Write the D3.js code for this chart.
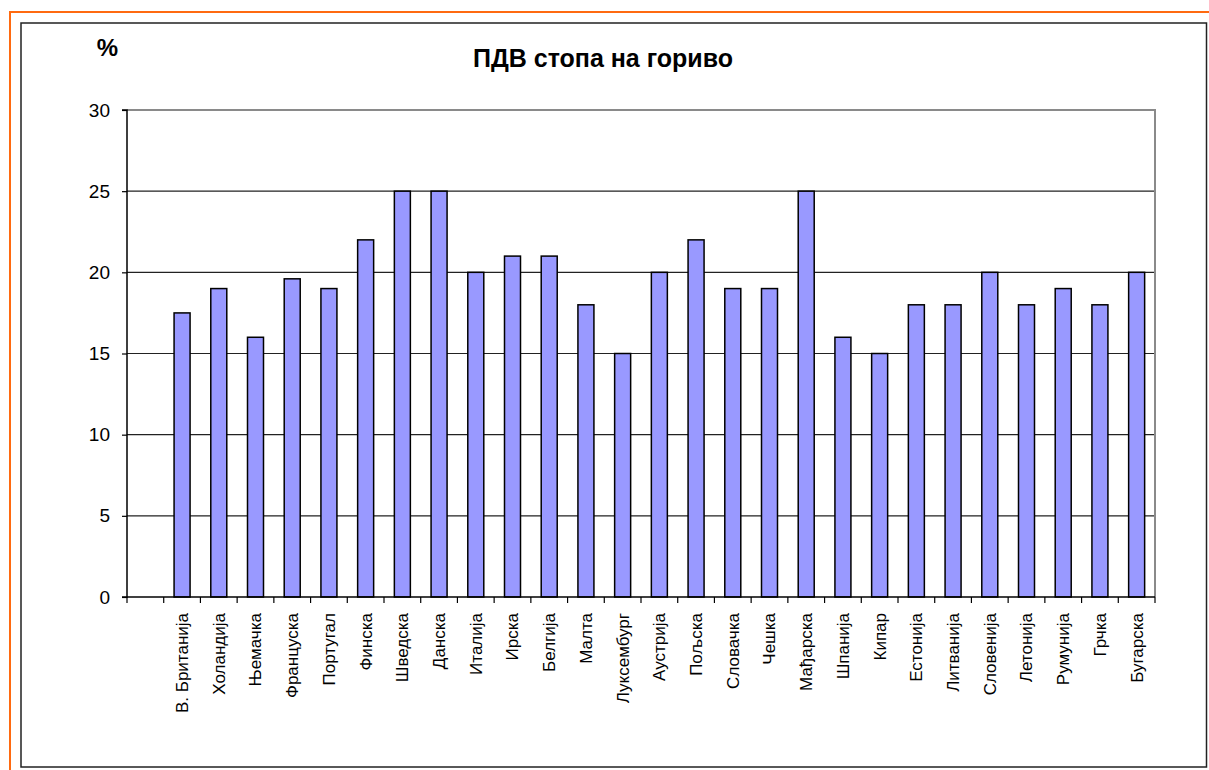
<!DOCTYPE html>
<html>
<head>
<meta charset="utf-8">
<script src="https://cdn.jsdelivr.net/npm/d3@7"></script>
<style>
  html, body { margin: 0; padding: 0; background: #fff; }
  svg text { font-family: "Liberation Sans", Arial, sans-serif; }
</style>
</head>
<body>
<svg id="chart" width="1209" height="770"></svg>
<script>
const title = "ПДВ стопа на гориво";
const unitLabel = "%";
const categories = ["", "В. Британија", "Холандија", "Њемачка", "Француска", "Португал", "Финска", "Шведска", "Данска", "Италија", "Ирска", "Белгија", "Малта", "Луксембург", "Аустрија", "Пољска", "Словачка", "Чешка", "Мађарска", "Шпанија", "Кипар", "Естонија", "Литванија", "Словенија", "Летонија", "Румунија", "Грчка", "Бугарска"];
const values = [null, 17.5, 19, 16, 19.6, 19, 22, 25, 25, 20, 21, 21, 18, 15, 20, 22, 19, 19, 25, 16, 15, 18, 18, 20, 18, 19, 18, 20];
const yTicks = [0, 5, 10, 15, 20, 25, 30];

const svg = d3.select("#chart");
const W = 1209, H = 770;

// frames
svg.append("rect").attr("x", 10).attr("y", 12).attr("width", W).attr("height", H)
  .attr("fill", "none").attr("stroke", "#FF6A10").attr("stroke-width", 2);
svg.append("rect").attr("x", 21).attr("y", 23).attr("width", 1185.5).attr("height", 744)
  .attr("fill", "#fff").attr("stroke", "#222").attr("stroke-width", 1.5);

const plot = { left: 127, right: 1155, top: 110, bottom: 597 };

const x = d3.scaleBand().domain(categories.map((d, i) => i)).range([plot.left, plot.right]).padding(0);
const y = d3.scaleLinear().domain([0, 30]).range([plot.bottom, plot.top]);

// gridlines
svg.append("g").selectAll("line").data(yTicks.filter(t => t > 0 && t < 30)).join("line")
  .attr("x1", plot.left).attr("x2", plot.right)
  .attr("y1", d => y(d)).attr("y2", d => y(d))
  .attr("stroke", "#222").attr("stroke-width", 1.2);

// plot border top/right (gray)
svg.append("path")
  .attr("d", `M${plot.left},${y(30)}H${plot.right}V${plot.bottom}`)
  .attr("fill", "none").attr("stroke", "#8a8a8a").attr("stroke-width", 2);

// bars
const barW = 16;
svg.append("g").selectAll("rect").data(values.map((v, i) => ({ v, i })).filter(d => d.v != null)).join("rect")
  .attr("x", d => x(d.i) + x.bandwidth() / 2 - barW / 2)
  .attr("y", d => y(d.v))
  .attr("width", barW)
  .attr("height", d => y(0) - y(d.v))
  .attr("fill", "#9999FF").attr("stroke", "#000").attr("stroke-width", 1.5);

// y axis
const yAxis = d3.axisLeft(y).tickValues(yTicks).tickSize(5).tickPadding(12);
const ga = svg.append("g").attr("transform", `translate(${plot.left},0)`).call(yAxis);
ga.select(".domain").attr("stroke", "#000").attr("stroke-width", 1.5).attr("d", `M-5,${y(30)}H0V${y(0)}H-5`);
ga.selectAll(".tick line").attr("stroke", "#000").attr("stroke-width", 1.2);
ga.selectAll(".tick text").attr("font-size", 19).attr("fill", "#000").attr("font-family", "Liberation Sans, Arial, sans-serif");

// x axis
const xAxis = d3.axisBottom(x).tickSize(0).tickFormat(i => categories[i]);
const gx = svg.append("g").attr("transform", `translate(0,${plot.bottom})`).call(xAxis);
gx.select(".domain").attr("stroke", "#000").attr("stroke-width", 1.5).attr("d", `M${plot.left},0H${plot.right}`);
gx.selectAll(".tick text")
  .attr("font-size", 17).attr("fill", "#000").attr("font-family", "Liberation Sans, Arial, sans-serif")
  .attr("text-anchor", "end")
  .attr("transform", "rotate(-90)")
  .attr("x", -16).attr("y", 0).attr("dy", "0.35em");
// tick marks on band boundaries
svg.append("g").selectAll("line").data(d3.range(categories.length + 1)).join("line")
  .attr("x1", i => plot.left + i * x.bandwidth()).attr("x2", i => plot.left + i * x.bandwidth())
  .attr("y1", plot.bottom).attr("y2", plot.bottom + 6)
  .attr("stroke", "#000").attr("stroke-width", 1.2);

// title
svg.append("text").attr("x", 603).attr("y", 67).attr("text-anchor", "middle")
  .attr("font-size", 25).attr("font-weight", "bold").text(title);
svg.append("text").attr("x", 107.5).attr("y", 56).attr("text-anchor", "middle")
  .attr("font-size", 24).attr("font-weight", "bold").text(unitLabel);
</script>
</body>
</html>
